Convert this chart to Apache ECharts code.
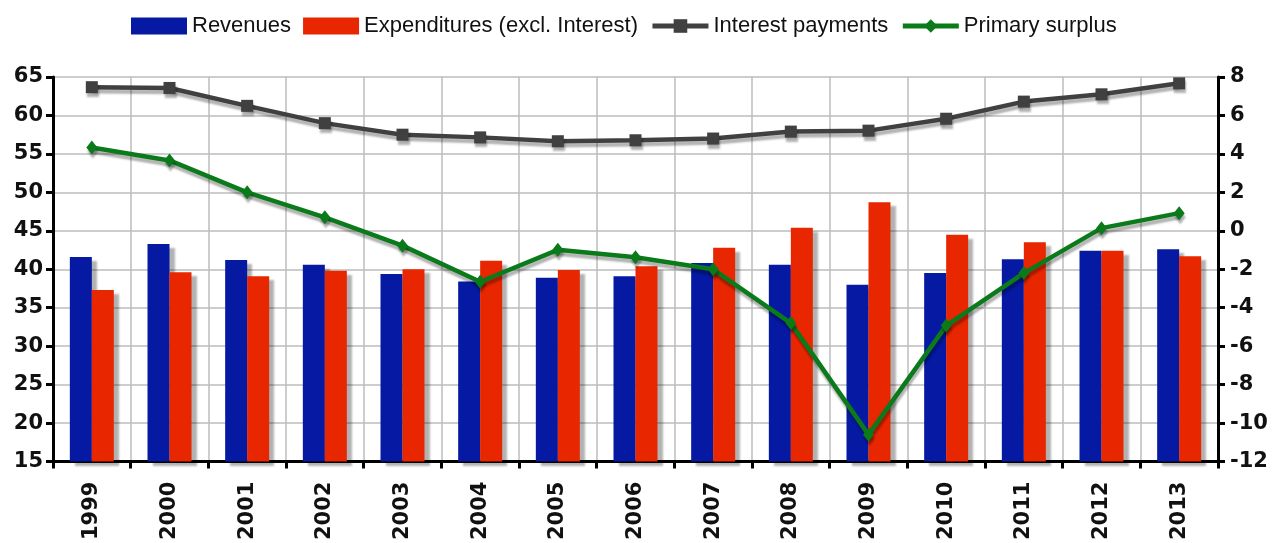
<!DOCTYPE html>
<html>
<head>
<meta charset="utf-8">
<script src="https://cdn.jsdelivr.net/npm/echarts@6/dist/echarts.min.js"></script>
<style>
html,body{margin:0;padding:0;background:#fff;}
#chart{width:1284px;height:543px;}
</style>
</head>
<body>
<div id="chart"></div>
<script>
const years = ['1999','2000','2001','2002','2003','2004','2005','2006','2007','2008','2009','2010','2011','2012','2013'];
const revenues = [41.6, 43.3, 41.2, 40.6, 39.4, 38.4, 38.9, 39.1, 40.8, 40.6, 38.0, 39.5, 41.3, 42.4, 42.6];
const expenditures = [37.3, 39.6, 39.1, 39.8, 40.0, 41.1, 39.9, 40.4, 42.8, 45.4, 48.7, 44.5, 43.5, 42.4, 41.7];
const interestPayments = [7.47, 7.43, 6.5, 5.6, 5.0, 4.86, 4.66, 4.71, 4.8, 5.16, 5.21, 5.83, 6.72, 7.1, 7.67];
const primarySurplus = [4.33, 3.66, 2.0, 0.7, -0.77, -2.65, -0.99, -1.37, -2.0, -4.8, -10.6, -4.93, -2.2, 0.14, 0.92];

const axisFont = {fontFamily:'DejaVu Sans', fontWeight:'bold', fontSize:21, color:'#111'};
const barShadow = {shadowColor:'rgba(0,0,0,0.3)', shadowBlur:2, shadowOffsetX:5, shadowOffsetY:4};
const lineShadow = {shadowColor:'rgba(0,0,0,0.3)', shadowBlur:2, shadowOffsetX:1, shadowOffsetY:4};

const chart = echarts.init(document.getElementById('chart'));
chart.setOption({
  animation:false,
  backgroundColor:'#fff',
  legend:{
    top:10, left:126,
    itemWidth:56, itemHeight:17, itemGap:12,
    textStyle:{fontFamily:'Liberation Sans', fontSize:22, color:'#111'},
    data:[
      {name:'Revenues', icon:'rect'},
      {name:'Expenditures (excl. Interest)', icon:'rect'},
      {name:'Interest payments', lineStyle:{width:5, shadowBlur:0, shadowOffsetY:0}, itemStyle:{shadowBlur:0, shadowOffsetY:0}},
      {name:'Primary surplus', lineStyle:{width:5, shadowBlur:0, shadowOffsetY:0}, itemStyle:{shadowBlur:0, shadowOffsetY:0}}
    ]
  },
  grid:{left:53, right:66, top:77, bottom:79},
  xAxis:{
    type:'category', data:years, boundaryGap:true,
    axisLine:{onZero:false, lineStyle:{color:'#000', width:3}},
    axisTick:{show:true, interval:0, length:7, lineStyle:{color:'#000', width:3}},
    axisLabel:Object.assign({rotate:90, interval:0, margin:20}, axisFont),
    splitLine:{show:true, interval:0, lineStyle:{color:'#bdbdbd', width:1.5}}
  },
  yAxis:[
    {type:'value', min:15, max:65, interval:5,
     axisLine:{show:true, lineStyle:{color:'#000', width:3}},
     axisTick:{show:true, length:7, lineStyle:{color:'#000', width:3}},
     axisLabel:Object.assign({margin:10}, axisFont),
     splitLine:{show:true, lineStyle:{color:'#bdbdbd', width:1.5}}},
    {type:'value', min:-12, max:8, interval:2, position:'right',
     axisLine:{show:true, lineStyle:{color:'#000', width:3}},
     axisTick:{show:true, length:7, lineStyle:{color:'#000', width:3}},
     axisLabel:Object.assign({margin:12}, axisFont),
     splitLine:{show:false}}
  ],
  series:[
    {name:'Revenues', type:'bar', data:revenues, yAxisIndex:0,
     barWidth:22, barGap:'0%',
     itemStyle:Object.assign({color:'#0519A3'}, barShadow)},
    {name:'Expenditures (excl. Interest)', type:'bar', data:expenditures, yAxisIndex:0,
     barWidth:22, barGap:'0%',
     itemStyle:Object.assign({color:'#E82600'}, barShadow)},
    {name:'Interest payments', type:'line', data:interestPayments, yAxisIndex:1,
     symbol:'rect', symbolSize:12, z:5,
     lineStyle:Object.assign({color:'#404040', width:4.5}, lineShadow),
     itemStyle:Object.assign({color:'#404040'}, lineShadow)},
    {name:'Primary surplus', type:'line', data:primarySurplus, yAxisIndex:1,
     symbol:'diamond', symbolSize:[11,14], z:6,
     lineStyle:Object.assign({color:'#0B7A1A', width:4.5}, lineShadow),
     itemStyle:Object.assign({color:'#0B7A1A'}, lineShadow)}
  ]
});
</script>
</body>
</html>
